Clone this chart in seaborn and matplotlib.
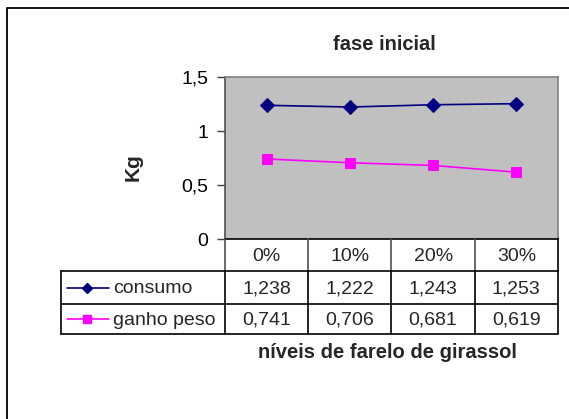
import matplotlib
matplotlib.use("Agg")
import matplotlib.pyplot as plt
import seaborn as sns
import pandas as pd
from matplotlib.lines import Line2D

# Data
niveis = ["0%", "10%", "20%", "30%"]
consumo = [1.238, 1.222, 1.243, 1.253]
ganho_peso = [0.741, 0.706, 0.681, 0.619]
series_names = ["consumo", "ganho peso"]
y_ticks = [0, 0.5, 1, 1.5]
y_tick_labels = ["0", "0,5", "1", "1,5"]

colors = {"consumo": "#000080", "ganho peso": "#FF00FF"}
markers = {"consumo": "D", "ganho peso": "s"}


def fmt(v):
    return f"{v:.3f}".replace(".", ",")


df = pd.DataFrame({
    "pos": list(range(len(niveis))) * 2,
    "kg": consumo + ganho_peso,
    "serie": [series_names[0]] * len(niveis) + [series_names[1]] * len(niveis),
})

sns.set_theme(style="white")
plt.rcParams["font.family"] = ["Liberation Sans", "DejaVu Sans"]

W, H = 569, 419
fig = plt.figure(figsize=(W / 100, H / 100), dpi=100)
fig.patch.set_facecolor("white")

# plot area in pixel coordinates
px_l, px_r, px_t, px_b = 225, 558, 77, 239
ax = fig.add_axes([px_l / W, 1 - px_b / H, (px_r - px_l) / W, (px_b - px_t) / H])
ax.set_facecolor("#C0C0C0")

sns.lineplot(data=df, x="pos", y="kg", hue="serie", style="serie",
             palette=colors, markers=markers, dashes=False, legend=False,
             markersize=7.5, linewidth=1.2, ax=ax)
for ln in ax.lines:
    ln.set_markeredgecolor(ln.get_color())

ax.set_xlim(-0.5, len(niveis) - 0.5)
ax.set_ylim(0, 1.5)
ax.set_xticks([])
ax.set_yticks(y_ticks)
ax.set_yticklabels(y_tick_labels, fontsize=14, color="black")
ax.tick_params(axis="y", which="major", left=True, length=5.5, width=1,
               color="#404040", pad=6.5)
ax.set_xlabel("")
ax.set_ylabel("")
for side in ["top", "right", "left"]:
    ax.spines[side].set_color("#808080")
    ax.spines[side].set_linewidth(1.2)
ax.spines["left"].set_color("#505050")
ax.spines["bottom"].set_color("black")
ax.spines["bottom"].set_linewidth(1.2)

# overlay in pixel coordinates for the data table, titles and frame
ov = fig.add_axes([0, 0, 1, 1], facecolor="none")
ov.set_xlim(0, W)
ov.set_ylim(H, 0)
ov.axis("off")

# chart frame
ov.plot([7, 7, W], [H, 8, 8], color="black", lw=1.3, solid_capstyle="butt")

fig.text(384 / W, 1 - 45 / H, "fase inicial", ha="center", va="center",
         fontsize=14.5, fontweight="bold")
fig.text(133 / W, 1 - 167 / H, "Kg", ha="center", va="center",
         rotation=90, fontsize=15, fontweight="bold")
fig.text(387 / W, 1 - 352 / H, "níveis de farelo de girassol", ha="center",
         va="center", fontsize=14.5, fontweight="bold")

# data table
col_w = (px_r - px_l) / len(niveis)
col_edges = [px_l + i * col_w for i in range(len(niveis) + 1)]
row_edges = [239, 271, 304, 334]
tbl_left = 61

# category row
for x in col_edges[:-1]:
    ov.plot([x, x], [row_edges[0], row_edges[1]], color="#505050", lw=1.2)
ov.plot([px_r, px_r], [row_edges[0], row_edges[1]], color="black", lw=1.2)
# series rows
ov.plot([tbl_left, px_r], [row_edges[1], row_edges[1]], color="black", lw=1.2)
ov.plot([tbl_left, px_r], [row_edges[2], row_edges[2]], color="black", lw=1.2)
ov.plot([tbl_left, px_r], [row_edges[3], row_edges[3]], color="black", lw=1.2)
for x in [tbl_left] + col_edges:
    ov.plot([x, x], [row_edges[1], row_edges[3]], color="black", lw=1.2)

for i, lab in enumerate(niveis):
    cx = (col_edges[i] + col_edges[i + 1]) / 2
    ov.text(cx, (row_edges[0] + row_edges[1]) / 2 + 1, lab, ha="center",
            va="center", fontsize=14)

rows = [(series_names[0], consumo), (series_names[1], ganho_peso)]
for r, (name, vals) in enumerate(rows):
    cy = (row_edges[r + 1] + row_edges[r + 2]) / 2 + 1
    for i, v in enumerate(vals):
        cx = (col_edges[i] + col_edges[i + 1]) / 2
        ov.text(cx, cy, fmt(v), ha="center", va="center", fontsize=14)
    ov.add_line(Line2D([67, 109], [cy - 1, cy - 1], color=colors[name], lw=1.2))
    ov.add_line(Line2D([87], [cy - 1], color=colors[name], marker=markers[name],
                       markersize=5.5 if name == "consumo" else 6,
                       markeredgecolor=colors[name], lw=0))
    ov.text(113, cy, name, ha="left", va="center", fontsize=14)

fig.savefig("out.png", dpi=100, facecolor="white")
